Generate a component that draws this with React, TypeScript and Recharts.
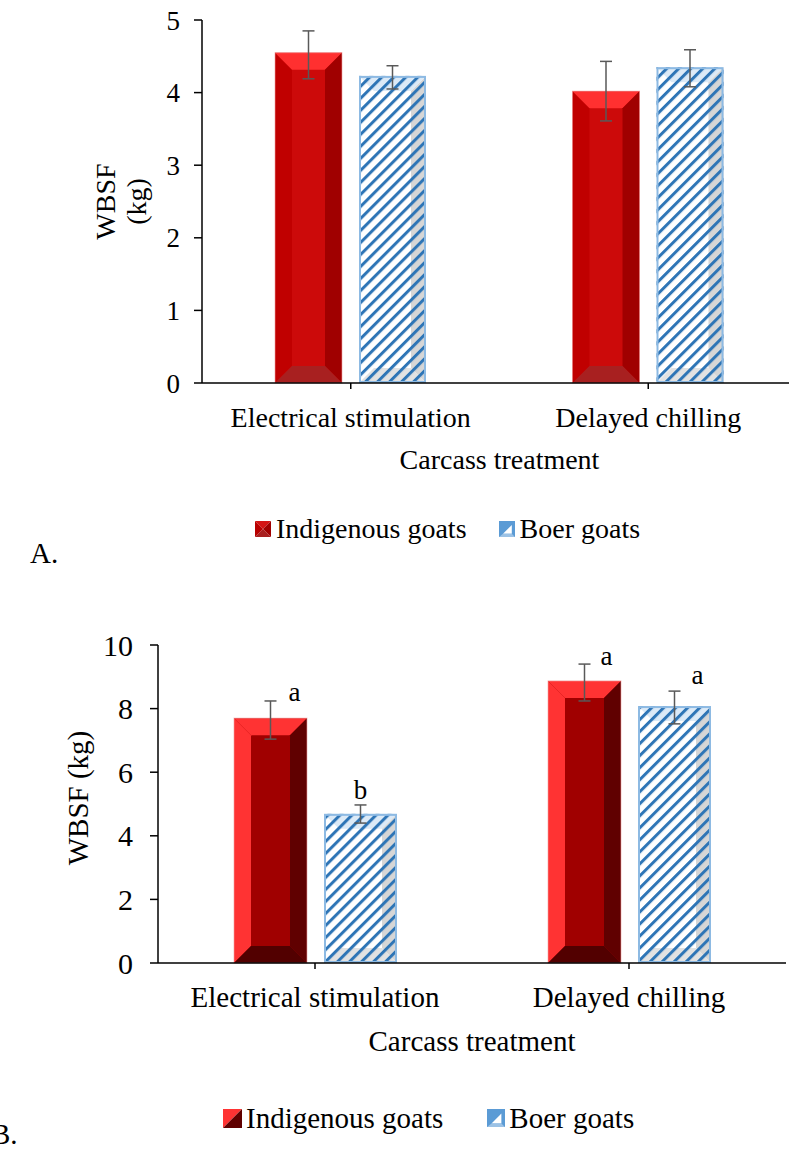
import { BarChart, Bar, XAxis, YAxis, ErrorBar, Legend, LabelList, Label } from 'recharts';

const categories = ['Electrical stimulation', 'Delayed chilling'];
const seriesNames = ['Indigenous goats', 'Boer goats'];

// panel A
const aIndigenous = [4.55, 4.02];
const aIndigenousErr = [[0.36, 0.3], [0.41, 0.41]];
const aBoer = [4.23, 4.35];
const aBoerErr = [[0.18, 0.14], [0.27, 0.24]];
const aTicks = [0, 1, 2, 3, 4, 5];

// panel B
const bIndigenous = [7.7, 8.87];
const bIndigenousErr = [[0.66, 0.54], [0.63, 0.53]];
const bBoer = [4.69, 8.08];
const bBoerErr = [[0.29, 0.28], [0.56, 0.47]];
const bIndigenousLetters = ['a', 'a'];
const bBoerLetters = ['b', 'a'];
const bTicks = [0, 2, 4, 6, 8, 10];

const FONT = "'Liberation Serif', 'Times New Roman', serif";

const dataA = categories.map((name, i) => ({
  name,
  ind: aIndigenous[i],
  indErr: aIndigenousErr[i],
  boer: aBoer[i],
  boerErr: aBoerErr[i],
}));

const dataB = categories.map((name, i) => ({
  name,
  ind: bIndigenous[i],
  indErr: bIndigenousErr[i],
  boer: bBoer[i],
  boerErr: bBoerErr[i],
}));

// letter nudges (px) for panel B significance labels
const indLetterOffset = [[24, 0], [22, 1]];
const boerLetterOffset = [[0, -6], [23, -7]];

const redA = { left: '#C00000', top: '#FF3030', right: '#A00000', bottom: '#A82020', inner: '#CC0A0A' };
const redB = { left: '#FF3333', top: '#FF3333', right: '#600000', bottom: '#520000', inner: '#A00000' };

function bevelPolys(x: number, y: number, w: number, h: number, b: number) {
  const p = (pts: number[][]) => pts.map((q) => q.join(',')).join(' ');
  return {
    top: p([[x, y], [x + w, y], [x + w - b, y + b], [x + b, y + b]]),
    right: p([[x + w, y], [x + w, y + h], [x + w - b, y + h - b], [x + w - b, y + b]]),
    bottom: p([[x, y + h], [x + w, y + h], [x + w - b, y + h - b], [x + b, y + h - b]]),
    left: p([[x, y], [x, y + h], [x + b, y + h - b], [x + b, y + b]]),
  };
}

function RedBar(props: any) {
  const { x, y, width: w, height: h, pal } = props;
  if (!w || !h) return null;
  const b = Math.min(17, w / 2, h / 2);
  const pl = bevelPolys(x, y, w, h, b);
  return (
    <g>
      <rect x={x} y={y} width={w} height={h} fill={pal.inner} />
      <polygon points={pl.left} fill={pal.left} />
      <polygon points={pl.top} fill={pal.top} />
      <polygon points={pl.right} fill={pal.right} />
      <polygon points={pl.bottom} fill={pal.bottom} />
      <rect x={x} y={y} width={w} height={h} fill="none" stroke="#F4A0A0" strokeOpacity={0.6} strokeWidth={1} />
    </g>
  );
}

function HatchBar(props: any) {
  const { x, y, width: w, height: h, pid } = props;
  if (!w || !h) return null;
  const b = Math.min(15, w / 2, h / 2);
  const pl = bevelPolys(x, y, w, h, b);
  return (
    <g>
      <rect x={x} y={y} width={w} height={h} fill="#FFFFFF" />
      <polygon points={pl.right} fill="#D6D6D6" />
      <polygon points={pl.bottom} fill="#E2E2E2" />
      <polygon points={pl.top} fill="#DCEAF7" />
      <rect x={x} y={y} width={w} height={h} fill={`url(#${pid})`} />
      <rect x={x + 1} y={y + 1} width={w - 2} height={h - 2} fill="none" stroke="#8DBAE3" strokeWidth={2} />
    </g>
  );
}

function Stripes({ id }: { id: string }) {
  return (
    <defs>
      <pattern id={id} patternUnits="userSpaceOnUse" width={8.5} height={8.5} patternTransform="rotate(45)">
        <rect x={0} y={0} width={3} height={8.5} fill="#2E75B6" />
      </pattern>
    </defs>
  );
}

function BlueIcon({ size }: { size: number }) {
  return (
    <svg width={size} height={size} style={{ display: 'block' }}>
      <rect x={0} y={0} width={size} height={size} fill="#5B9BD5" />
      <polygon points={`${size * 0.25},${size * 0.8} ${size * 0.8},${size * 0.25} ${size * 0.8},${size * 0.8}`} fill="#FFFFFF" />
      <polygon points={`${size * 0.25},${size * 0.8} ${size * 0.8},${size * 0.8} ${size},${size} ${0},${size}`} fill="#9CC2E5" />
    </svg>
  );
}

function RedIconA({ size }: { size: number }) {
  const s = size;
  const m = s / 2;
  return (
    <svg width={s} height={s} style={{ display: 'block' }}>
      <polygon points={`0,0 ${s},0 ${m},${m}`} fill="#D41414" />
      <polygon points={`${s},0 ${s},${s} ${m},${m}`} fill="#A00000" />
      <polygon points={`0,${s} ${s},${s} ${m},${m}`} fill="#A82020" />
      <polygon points={`0,0 0,${s} ${m},${m}`} fill="#B80000" />
    </svg>
  );
}

function RedIconB({ size }: { size: number }) {
  const s = size;
  return (
    <svg width={s} height={s} style={{ display: 'block' }}>
      <polygon points={`0,0 ${s},0 0,${s}`} fill="#FF3333" />
      <polygon points={`${s},0 ${s},${s} 0,${s}`} fill="#600000" />
    </svg>
  );
}

function legendContent(redIcon: any, iconSize: number, gapIcon: number, gapItem: number, fs: number) {
  return () => (
    <div style={{ display: 'flex', alignItems: 'center', fontFamily: FONT, fontSize: fs, color: '#000', lineHeight: '30px' }}>
      {redIcon}
      <span style={{ marginLeft: gapIcon }}>{seriesNames[0]}</span>
      <span style={{ marginLeft: gapItem }}>
        <BlueIcon size={iconSize} />
      </span>
      <span style={{ marginLeft: gapIcon }}>{seriesNames[1]}</span>
    </div>
  );
}

const axisLine = { stroke: '#000', strokeWidth: 1.5 };

function letterLabel(letters: string[], errs: number[][], offs: number[][]) {
  return (p: any) => {
    const { x, y, width, height, value, index } = p;
    const top = y - (errs[index][1] * height) / value;
    return (
      <text
        x={x + width / 2 + offs[index][0]}
        y={top + offs[index][1]}
        textAnchor="middle"
        fontFamily={FONT}
        fontSize={27}
        fill="#000"
      >
        {letters[index]}
      </text>
    );
  };
}

export default function App() {
  return (
    <div style={{ position: 'absolute', left: 0, top: 0, width: 789, height: 1151, overflow: 'hidden', background: '#fff' }}>
      {/* Panel A */}
      <div style={{ position: 'absolute', left: 0, top: 0 }}>
        <BarChart
          width={797}
          height={560}
          data={dataA}
          margin={{ top: 20, right: 0, left: 72, bottom: 87 }}
          barSize={67}
          barGap={17}
        >
          <Stripes id="stripesA" />
          <XAxis
            dataKey="name"
            height={90}
            tick={{ fill: '#000', fontSize: 28, fontFamily: FONT }}
            tickSize={6}
            tickMargin={18}
            axisLine={axisLine}
            tickLine={axisLine}
          >
            <Label
              content={(p: any) => (
                <text x={p.viewBox.x + p.viewBox.width / 2} y={p.viewBox.y + 86} textAnchor="middle" fontFamily={FONT} fontSize={28} fill="#000">
                  Carcass treatment
                </text>
              )}
            />
          </XAxis>
          <YAxis
            width={130}
            domain={[0, 5]}
            ticks={aTicks}
            interval={0}
            tick={{ fill: '#000', fontSize: 27, fontFamily: FONT }}
            tickSize={8}
            tickMargin={14}
            axisLine={axisLine}
            tickLine={axisLine}
          >
            <Label
              content={(p: any) => {
                const cy = p.viewBox.y + p.viewBox.height / 2;
                return (
                  <g>
                    <text transform={`translate(115,${cy}) rotate(-90)`} textAnchor="middle" fontFamily={FONT} fontSize={28} fill="#000">
                      WBSF
                    </text>
                    <text transform={`translate(146,${cy}) rotate(-90)`} textAnchor="middle" fontFamily={FONT} fontSize={28} fill="#000">
                      (kg)
                    </text>
                  </g>
                );
              }}
            />
          </YAxis>
          <Legend
            layout="horizontal"
            verticalAlign="middle"
            align="center"
            wrapperStyle={{ top: 514, left: 255, width: 520 }}
            content={legendContent(<RedIconA size={16} />, 16, 5, 32, 28)}
          />
          <Bar dataKey="ind" name={seriesNames[0]} isAnimationActive={false} shape={(p: any) => <RedBar {...p} pal={redA} />}>
            <ErrorBar dataKey="indErr" width={6} stroke="#595959" strokeWidth={1.5} direction="y" isAnimationActive={false} />
          </Bar>
          <Bar dataKey="boer" name={seriesNames[1]} isAnimationActive={false} shape={(p: any) => <HatchBar {...p} pid="stripesA" />}>
            <ErrorBar dataKey="boerErr" width={6} stroke="#595959" strokeWidth={1.5} direction="y" isAnimationActive={false} />
          </Bar>
        </BarChart>
      </div>
      <div style={{ position: 'absolute', left: 30, top: 539, fontFamily: FONT, fontSize: 29, lineHeight: '29px', color: '#000' }}>A.</div>

      {/* Panel B */}
      <div style={{ position: 'absolute', left: 0, top: 600 }}>
        <BarChart
          width={789}
          height={560}
          data={dataB}
          margin={{ top: 45, right: 3, left: 58, bottom: 107 }}
          barSize={73}
          barGap={17}
        >
          <Stripes id="stripesB" />
          <XAxis
            dataKey="name"
            height={90}
            tick={{ fill: '#000', fontSize: 29, fontFamily: FONT }}
            tickSize={6}
            tickMargin={17}
            axisLine={axisLine}
            tickLine={axisLine}
          >
            <Label
              content={(p: any) => (
                <text x={p.viewBox.x + p.viewBox.width / 2} y={p.viewBox.y + 88} textAnchor="middle" fontFamily={FONT} fontSize={29} fill="#000">
                  Carcass treatment
                </text>
              )}
            />
          </XAxis>
          <YAxis
            width={100}
            domain={[0, 10]}
            ticks={bTicks}
            interval={0}
            tick={{ fill: '#000', fontSize: 30, fontFamily: FONT }}
            tickSize={8}
            tickMargin={17}
            axisLine={axisLine}
            tickLine={axisLine}
          >
            <Label
              content={(p: any) => {
                const cy = p.viewBox.y + p.viewBox.height / 2 - 6;
                return (
                  <text transform={`translate(88,${cy}) rotate(-90)`} textAnchor="middle" fontFamily={FONT} fontSize={29} fill="#000">
                    WBSF (kg)
                  </text>
                );
              }}
            />
          </YAxis>
          <Legend
            layout="horizontal"
            verticalAlign="middle"
            align="center"
            wrapperStyle={{ top: 503, left: 223, width: 540 }}
            content={legendContent(<RedIconB size={19} />, 18, 4, 44, 29)}
          />
          <Bar dataKey="ind" name={seriesNames[0]} isAnimationActive={false} shape={(p: any) => <RedBar {...p} pal={redB} />}>
            <ErrorBar dataKey="indErr" width={6} stroke="#595959" strokeWidth={1.5} direction="y" isAnimationActive={false} />
            <LabelList dataKey="ind" content={letterLabel(bIndigenousLetters, bIndigenousErr, indLetterOffset)} />
          </Bar>
          <Bar dataKey="boer" name={seriesNames[1]} isAnimationActive={false} shape={(p: any) => <HatchBar {...p} pid="stripesB" />}>
            <ErrorBar dataKey="boerErr" width={6} stroke="#595959" strokeWidth={1.5} direction="y" isAnimationActive={false} />
            <LabelList dataKey="boer" content={letterLabel(bBoerLetters, bBoerErr, boerLetterOffset)} />
          </Bar>
        </BarChart>
      </div>
      <div style={{ position: 'absolute', left: -9, top: 1120, fontFamily: FONT, fontSize: 29, lineHeight: '29px', color: '#000' }}>B.</div>
    </div>
  );
}
